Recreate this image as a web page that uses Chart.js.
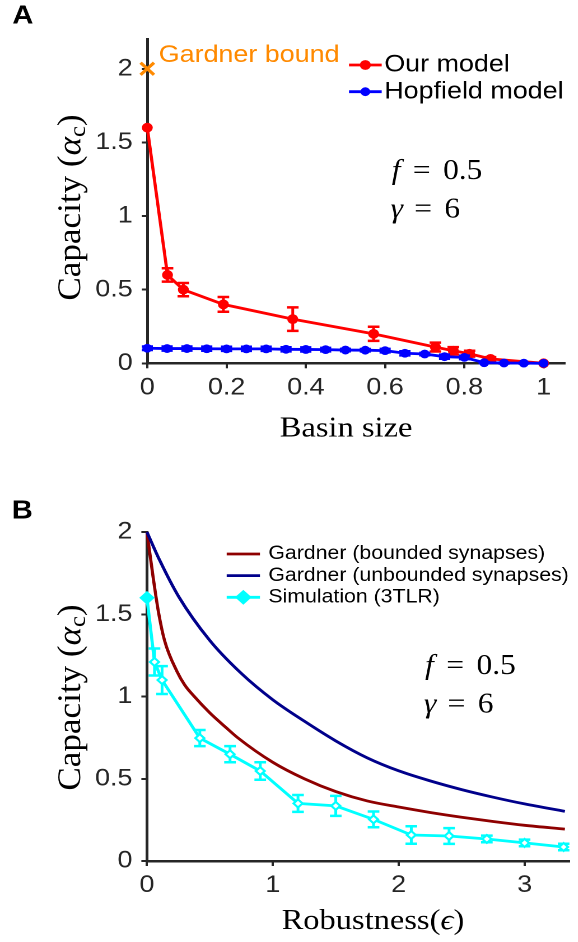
<!DOCTYPE html>
<html>
<head>
<meta charset="utf-8">
<title>Capacity vs basin size / robustness</title>
<script src="https://cdn.jsdelivr.net/npm/chart.js@4.4.1/dist/chart.umd.min.js"></script>
<style>
  html, body { margin: 0; padding: 0; background: #fff; }
  body { width: 578px; height: 942px; overflow: hidden; }
  /* the original figure is slightly wider than tall, so each panel is stretched a bit */
  .panel { position: relative; width: 516px; transform: scaleX(1.12); transform-origin: 0 0; }
  #wrapA { height: 470px; }
  #wrapB { height: 472px; }
</style>
</head>
<body>
<div class="panel" id="wrapA"><canvas id="chartA"></canvas></div>
<div class="panel" id="wrapB"><canvas id="chartB"></canvas></div>
<script>
// ---------- panel A: capacity vs basin size ----------
const basinOurs = [0, 0.051, 0.091, 0.192, 0.367, 0.571, 0.727, 0.772, 0.813, 0.866, 1.0];
const capOurs   = [1.6, 0.60, 0.50, 0.40, 0.30, 0.20, 0.11, 0.085, 0.065, 0.03, 0];
const errOurs   = [0, 0.045, 0.045, 0.05, 0.08, 0.048, 0.03, 0.025, 0.02, 0.012, 0];

const basinHopfield = [0, 0.05, 0.1, 0.15, 0.2, 0.25, 0.3, 0.35, 0.4, 0.45, 0.5,
                       0.55, 0.6, 0.65, 0.7, 0.75, 0.8, 0.85, 0.9, 0.95, 1.0];
const capHopfield   = [0.102, 0.100, 0.100, 0.099, 0.098, 0.098, 0.098, 0.095, 0.094, 0.093, 0.090,
                       0.089, 0.086, 0.068, 0.063, 0.045, 0.040, 0.004, 0.002, 0.001, 0];
const errHopfield   = [0.012, 0.014, 0.014, 0.014, 0.014, 0.014, 0.014, 0.014, 0.014, 0.012, 0.008,
                       0.008, 0.012, 0.014, 0.008, 0.014, 0.012, 0.004, 0.003, 0.002, 0];

const gardnerBoundX = [0];
const gardnerBoundY = [2];

const aXTicks = [0, 0.2, 0.4, 0.6, 0.8, 1];
const aYTicks = [0, 0.5, 1, 1.5, 2];

// ---------- panel B: capacity vs robustness ----------
const epsBounded = [0, 0.05, 0.09, 0.14, 0.24, 0.3, 0.37, 0.5, 0.63, 0.72, 1.0, 1.25, 1.5, 1.75,
                    2.0, 2.25, 2.5, 2.75, 3.0, 3.32];
const capBounded = [2.0, 1.72, 1.52, 1.34, 1.15, 1.07, 1.005, 0.9, 0.81, 0.75, 0.6, 0.5, 0.422, 0.365,
                    0.328, 0.295, 0.266, 0.24, 0.217, 0.194];

const epsUnbounded = [0, 0.1, 0.25, 0.5, 0.75, 1.0, 1.25, 1.5, 1.75, 2.0, 2.25, 2.5, 2.75, 3.0, 3.32];
const capUnbounded = [2.0, 1.83, 1.61, 1.34, 1.14, 0.98, 0.85, 0.73, 0.627, 0.548, 0.487, 0.434, 0.388, 0.347, 0.302];

const epsSim = [0, 0.06, 0.12, 0.42, 0.66, 0.9, 1.2, 1.5, 1.8, 2.1, 2.4, 2.7, 3.0, 3.31];
const capSim = [1.6, 1.21, 1.10, 0.747, 0.649, 0.547, 0.35, 0.335, 0.253, 0.158, 0.152, 0.134, 0.11, 0.085];
const errSim = [0, 0.082, 0.085, 0.049, 0.049, 0.053, 0.051, 0.061, 0.048, 0.053, 0.048, 0.02, 0.02, 0.02];

const bXTicks = [0, 1, 2, 3];
const bYTicks = [0, 0.5, 1, 1.5, 2];

const FONT_SANS = '"Liberation Sans", Arial, Helvetica, sans-serif';
const FONT_SERIF = '"Liberation Serif", "Times New Roman", "DejaVu Serif", serif';
const AXIS_GREY = '#262626';

function toPoints(xs, ys) {
    return xs.map((x, i) => ({ x: x, y: ys[i] }));
}

/**
 * Linear axis with fixed tick values and a fixed box size.
 */
function linearAxis(min, max, tickValues, tickPad, fitSize, isX) {
    return {
        type: 'linear',
        min: min,
        max: max,
        afterBuildTicks: scale => { scale.ticks = tickValues.map(v => ({ value: v })); },
        afterFit: scale => {
            if (isX) scale.height = fitSize;
            else scale.width = fitSize;
        },
        grid: { drawOnChartArea: false, drawTicks: true, tickLength: 5, tickWidth: 2, tickColor: AXIS_GREY },
        border: { display: true, color: AXIS_GREY, width: 2.5 },
        ticks: {
            color: AXIS_GREY,
            font: { family: FONT_SANS, size: 24 },
            padding: tickPad,
            maxRotation: 0,
            autoSkip: false,
            callback: v => String(v)
        }
    };
}

// error bars go under the markers of their own dataset
const errorBarPlugin = {
    id: 'errorBars',
    beforeDatasetDraw(chart, args) {
        const ds = chart.data.datasets[args.index];
        if (!ds.errors) return;
        const yScale = chart.scales.y;
        const ctx = chart.ctx;
        const cap = ds.capHalf || 5;
        ctx.save();
        ctx.strokeStyle = ds.borderColor;
        ctx.lineWidth = 2.5;
        args.meta.data.forEach((pt, i) => {
            const e = ds.errors[i];
            if (!e) return;
            const v = ds.data[i].y;
            const top = yScale.getPixelForValue(v + e);
            const bot = yScale.getPixelForValue(v - e);
            ctx.beginPath();
            ctx.moveTo(pt.x, top); ctx.lineTo(pt.x, bot);
            ctx.moveTo(pt.x - cap, top); ctx.lineTo(pt.x + cap, top);
            ctx.moveTo(pt.x - cap, bot); ctx.lineTo(pt.x + cap, bot);
            ctx.stroke();
        });
        ctx.restore();
    }
};

/**
 * Draw a row of text runs (different styles) one after the other.
 */
function drawRuns(ctx, runs, x, y, size, align) {
    const fonts = runs.map(r => (r.italic ? 'italic ' : '') + (size * (r.scale || 1)) + 'px ' + FONT_SERIF);
    let total = 0;
    const widths = runs.map((r, i) => {
        ctx.font = fonts[i];
        const w = ctx.measureText(r.t).width + (r.gap || 0) * size;
        total += w;
        return w;
    });
    let cx = align === 'center' ? x - total / 2 : x;
    runs.forEach((r, i) => {
        ctx.font = fonts[i];
        ctx.fillText(r.t, cx + (r.gap || 0) * size, y + (r.dy || 0) * size);
        cx += widths[i];
    });
}

const textPlugin = {
    id: 'panelText',
    afterDraw(chart, args, o) {
        const ctx = chart.ctx;
        ctx.save();
        ctx.fillStyle = '#000';
        ctx.textAlign = 'left';
        ctx.textBaseline = 'alphabetic';

        // panel letter
        ctx.font = 'bold 26px ' + FONT_SANS;
        ctx.fillText(o.letter, o.letterX, o.letterY);

        // x title
        drawRuns(ctx, o.xTitle, o.xTitleX, o.xTitleY, 29, 'center');

        // y title, rotated
        ctx.save();
        ctx.translate(o.yTitleX, o.yTitleY);
        ctx.rotate(-Math.PI / 2);
        ctx.scale(1.17, 1);
        drawRuns(ctx, [
            { t: 'Capacity (' },
            { t: 'α', italic: true },
            { t: 'c', scale: 0.7, dy: 0.16 },
            { t: ')' }
        ], 0, 7, 30, 'center');
        ctx.restore();

        // parameters
        drawRuns(ctx, [{ t: 'f', italic: true }, { t: '=', gap: 0.4 }, { t: '0.5', gap: 0.4 }], o.mathX, o.mathY1, 28, 'left');
        drawRuns(ctx, [{ t: 'γ', italic: true }, { t: '=', gap: 0.36 }, { t: '6', gap: 0.4 }], o.mathX - 1, o.mathY2, 28, 'left');

        // legend
        const lg = o.legend;
        let row = 0;
        chart.data.datasets.forEach(ds => {
            if (!ds.inLegend) return;
            const y = lg.y0 + row * lg.dy;
            ctx.strokeStyle = ds.borderColor;
            ctx.lineWidth = ds.borderWidth;
            ctx.beginPath();
            ctx.moveTo(lg.x0, y);
            ctx.lineTo(lg.x1, y);
            ctx.stroke();
            ctx.fillStyle = ds.borderColor;
            Chart.helpers.drawPoint(ctx, {
                pointStyle: ds.pointStyle,
                radius: ds.legendRadius,
                rotation: 0,
                borderWidth: 1
            }, (lg.x0 + lg.x1) / 2, y);
            ctx.fill();
            ctx.fillStyle = '#000';
            ctx.font = lg.size + 'px ' + FONT_SANS;
            ctx.textBaseline = 'middle';
            ctx.fillText(ds.label, lg.tx, y);
            ctx.textBaseline = 'alphabetic';
            row++;
        });

        // note next to the Gardner bound marker
        if (o.note) {
            const idx = chart.data.datasets.findIndex(d => d.label === o.note.label);
            const pt = chart.getDatasetMeta(idx).data[0];
            ctx.fillStyle = o.note.color;
            ctx.font = '24px ' + FONT_SANS;
            ctx.fillText(o.note.label, pt.x + 10.2, pt.y - 6.7);
        }
        ctx.restore();
    }
};

const ORANGE = '#FF8A00';

new Chart(document.getElementById('chartA'), {
    type: 'line',
    data: {
        datasets: [{
            label: 'Our model',
            data: toPoints(basinOurs, capOurs),
            errors: errOurs,
            capHalf: 5.2,
            borderColor: '#FF0000',
            backgroundColor: '#FF0000',
            borderWidth: 2.8,
            pointStyle: 'circle',
            pointRadius: 3.5,
            legendRadius: 3.5,
            inLegend: true,
            clip: false,
            order: 2
        }, {
            label: 'Hopfield model',
            data: toPoints(basinHopfield, capHopfield),
            errors: errHopfield,
            capHalf: 5,
            borderColor: '#0000FF',
            backgroundColor: '#0000FF',
            borderWidth: 2.8,
            pointStyle: 'circle',
            pointRadius: 3,
            legendRadius: 3,
            inLegend: true,
            clip: false,
            order: 1
        }, {
            label: 'Gardner bound',
            data: toPoints(gardnerBoundX, gardnerBoundY),
            showLine: false,
            borderColor: ORANGE,
            backgroundColor: ORANGE,
            pointStyle: 'crossRot',
            pointRadius: 8.5,
            pointBorderWidth: 3,
            clip: false,
            order: 0
        }]
    },
    options: {
        responsive: true,
        maintainAspectRatio: false,
        animation: false,
        devicePixelRatio: 2,
        layout: { padding: { left: 0, right: 0, top: 39.3, bottom: 0 } },
        scales: {
            x: linearAxis(0, 1.054, aXTicks, 5, 106.7, true),
            y: linearAxis(0, 2.2, aYTicks, 8, 131.5, false)
        },
        plugins: {
            legend: { display: false },
            tooltip: { enabled: false },
            panelText: {
                letter: 'A', letterX: 11, letterY: 23.5,
                xTitle: [{ t: 'Basin size' }], xTitleX: 309, xTitleY: 436.7,
                yTitleX: 64.3, yTitleY: 207.5,
                mathX: 349.7, mathY1: 179, mathY2: 217.5,
                legend: { x0: 311.6, x1: 340.8, tx: 343.1, y0: 65, dy: 26.7, size: 24 },
                note: { label: 'Gardner bound', color: ORANGE }
            }
        }
    },
    plugins: [errorBarPlugin, textPlugin]
});

new Chart(document.getElementById('chartB'), {
    type: 'line',
    data: {
        datasets: [{
            label: 'Gardner (bounded synapses)',
            data: toPoints(epsBounded, capBounded),
            borderColor: '#8E0000',
            backgroundColor: '#8E0000',
            borderWidth: 2.8,
            pointRadius: 0,
            pointStyle: 'line',
            legendRadius: 0,
            cubicInterpolationMode: 'monotone',
            inLegend: true,
            clip: false,
            order: 2
        }, {
            label: 'Gardner (unbounded synapses)',
            data: toPoints(epsUnbounded, capUnbounded),
            borderColor: '#00008B',
            backgroundColor: '#00008B',
            borderWidth: 2.8,
            pointRadius: 0,
            pointStyle: 'line',
            legendRadius: 0,
            cubicInterpolationMode: 'monotone',
            inLegend: true,
            clip: false,
            order: 1
        }, {
            label: 'Simulation (3TLR)',
            data: toPoints(epsSim, capSim),
            errors: errSim,
            capHalf: 5.2,
            borderColor: '#00FFFF',
            backgroundColor: '#00FFFF',
            borderWidth: 2.8,
            pointStyle: 'rectRot',
            pointRadius: capSim.map((v, i) => (i === 0 ? 5.5 : 4)),
            pointBackgroundColor: capSim.map((v, i) => (i === 0 ? '#00FFFF' : '#FFFFFF')),
            pointBorderWidth: 2,
            legendRadius: 5.5,
            inLegend: true,
            clip: false,
            order: 0
        }]
    },
    options: {
        responsive: true,
        maintainAspectRatio: false,
        animation: false,
        devicePixelRatio: 2,
        layout: { padding: { left: 0, right: 0, top: 62, bottom: 0 } },
        scales: {
            x: linearAxis(0, 3.357, bXTicks, 5, 81, true),
            y: linearAxis(0, 2, bYTicks, 8, 131.2, false)
        },
        plugins: {
            legend: { display: false },
            tooltip: { enabled: false },
            panelText: {
                letter: 'B', letterX: 10.5, letterY: 48.3,
                xTitle: [{ t: 'Robustness(' }, { t: 'ϵ', italic: true }, { t: ')' }], xTitleX: 333, xTitleY: 459,
                yTitleX: 64.3, yTitleY: 227.5,
                mathX: 379.5, mathY1: 204, mathY2: 242.5,
                legend: { x0: 202.4, x1: 232.1, tx: 239.6, y0: 84, dy: 21.65, size: 19 }
            }
        }
    },
    plugins: [errorBarPlugin, textPlugin]
});
</script>
</body>
</html>
